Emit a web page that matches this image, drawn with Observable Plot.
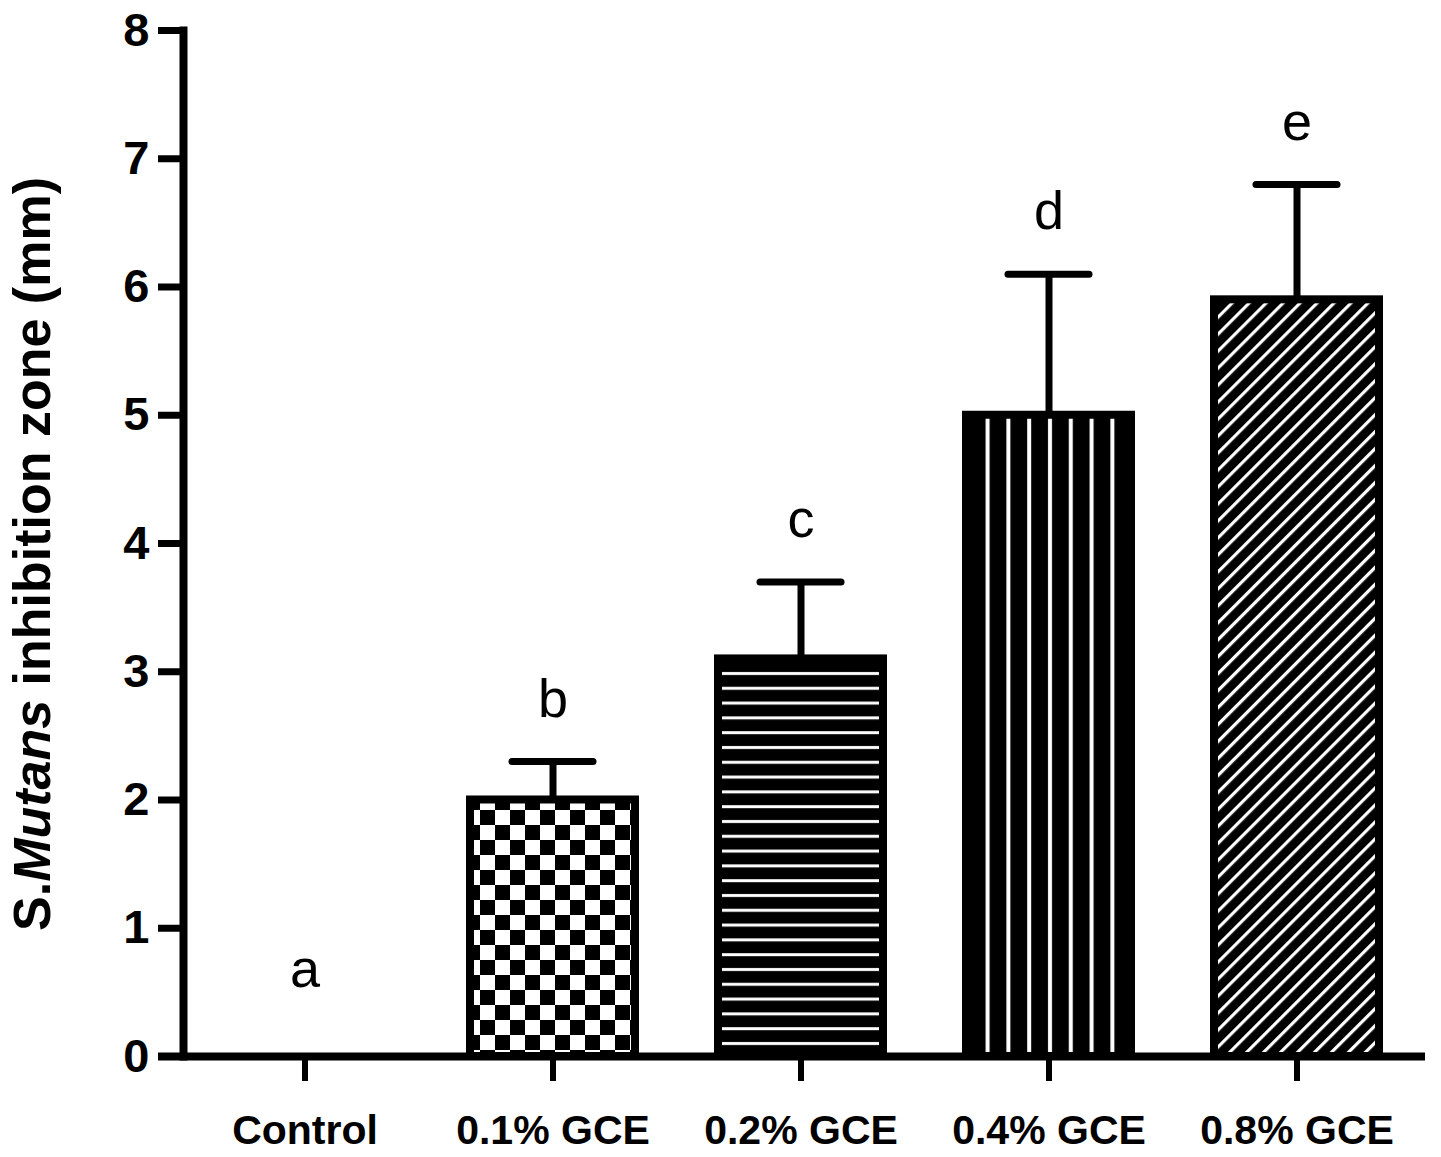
<!DOCTYPE html>
<html>
<head>
<meta charset="utf-8">
<script src="https://cdn.jsdelivr.net/npm/d3@7"></script>
<script src="https://cdn.jsdelivr.net/npm/@observablehq/plot@0.6"></script>
<style>
  body { margin: 0; background: white; }
</style>
</head>
<body>
<div id="chart"></div>
<script>
// valores
const groups = ["Control", "0.1% GCE", "0.2% GCE", "0.4% GCE", "0.8% GCE"];
const means = [0, 2.0, 3.1, 5.0, 5.9];
const errors = [0, 0.3, 0.6, 1.1, 0.9];
const letters = ["a", "b", "c", "d", "e"];
const patterns = ["none", "checker", "hlines", "vlines", "diag"];
const yTicks = [0, 1, 2, 3, 4, 5, 6, 7, 8];

const data = groups.map((g, i) => ({
  group: g,
  mean: means[i],
  upper: means[i] + errors[i],
  letter: letters[i],
  pattern: patterns[i]
}));

const font = "'Liberation Sans', Arial, sans-serif";

let chart = Plot.plot({
  width: 1441,
  height: 1157,
  marginLeft: 183,
  marginRight: 24,
  marginTop: 30,
  marginBottom: 101,
  style: {fontFamily: font, color: "black", background: "white", overflow: "visible"},
  x: {type: "band", domain: groups, paddingInner: 0.336, paddingOuter: 0.151, label: null},
  y: {domain: [0, 8], label: null},
  color: {type: "identity"},
  marks: [
    Plot.barY(data.filter(d => d.mean > 0), {
      x: "group",
      y: "mean",
      fill: d => `url(#${d.pattern})`,
      stroke: "black",
      strokeWidth: 8
    }),
    Plot.ruleX(data.filter(d => d.upper > d.mean), {
      x: "group", y1: "mean", y2: "upper", strokeWidth: 7
    }),
    Plot.tickY(data.filter(d => d.upper > d.mean), {
      x: "group", y: "upper", strokeWidth: 7, strokeLinecap: "round",
      insetLeft: 42, insetRight: 42
    }),
    Plot.text(data, {
      x: "group",
      y: d => Math.max(d.upper + 0.35, 0.54),
      text: "letter",
      lineAnchor: "bottom",
      fontSize: 54,
      fontFamily: font
    }),
    Plot.ruleY([0], {strokeWidth: 8, insetLeft: -25, insetRight: -8}),
    Plot.frame({anchor: "left", strokeWidth: 8}),
    Plot.axisY({
      ticks: yTicks, tickSize: 25, tickPadding: 9, strokeWidth: 7,
      fontSize: 47, fontWeight: "bold", tickFormat: d => d, label: null
    }),
    Plot.axisX({
      tickSize: 25, tickPadding: 33, strokeWidth: 6,
      fontSize: 41, fontWeight: "bold", label: null
    })
  ]
})

const svg = d3.select(chart);
const defs = svg.insert("defs", ":first-child");

// tablero
const checker = defs.append("pattern").attr("id", "checker")
  .attr("patternUnits", "userSpaceOnUse").attr("width", 30).attr("height", 30);
checker.append("rect").attr("width", 30).attr("height", 30).attr("fill", "white");
checker.append("rect").attr("width", 15).attr("height", 15).attr("fill", "black");
checker.append("rect").attr("x", 15).attr("y", 15).attr("width", 15).attr("height", 15).attr("fill", "black");

// lineas horizontales
const hl = defs.append("pattern").attr("id", "hlines")
  .attr("patternUnits", "userSpaceOnUse").attr("width", 10).attr("height", 14.8);
hl.append("rect").attr("width", 10).attr("height", 14.8).attr("fill", "black");
hl.append("rect").attr("y", 6).attr("width", 10).attr("height", 3).attr("fill", "white");

// lineas verticales
const vl = defs.append("pattern").attr("id", "vlines")
  .attr("patternUnits", "userSpaceOnUse").attr("width", 20.8).attr("height", 10);
vl.append("rect").attr("width", 20.8).attr("height", 10).attr("fill", "black");
vl.append("rect").attr("x", 8).attr("width", 4).attr("height", 10).attr("fill", "white");

// diagonales
const dg = defs.append("pattern").attr("id", "diag")
  .attr("patternUnits", "userSpaceOnUse").attr("width", 12).attr("height", 12)
  .attr("patternTransform", "rotate(45)");
dg.append("rect").attr("width", 12).attr("height", 12).attr("fill", "black");
dg.append("rect").attr("x", 4).attr("width", 3.2).attr("height", 12).attr("fill", "white");

// titulo del eje y
const title = svg.append("text")
  .attr("transform", "translate(50,554) rotate(-90)")
  .attr("text-anchor", "middle")
  .attr("font-size", 52)
  .attr("font-weight", "bold")
  .attr("font-family", font)
  .attr("fill", "black");
title.append("tspan").text("S.");
title.append("tspan").attr("font-style", "italic").text("Mutans");
title.append("tspan").text(" inhibition zone (mm)");

d3.select('#chart').append(() => chart)
</script>
</body>
</html>
